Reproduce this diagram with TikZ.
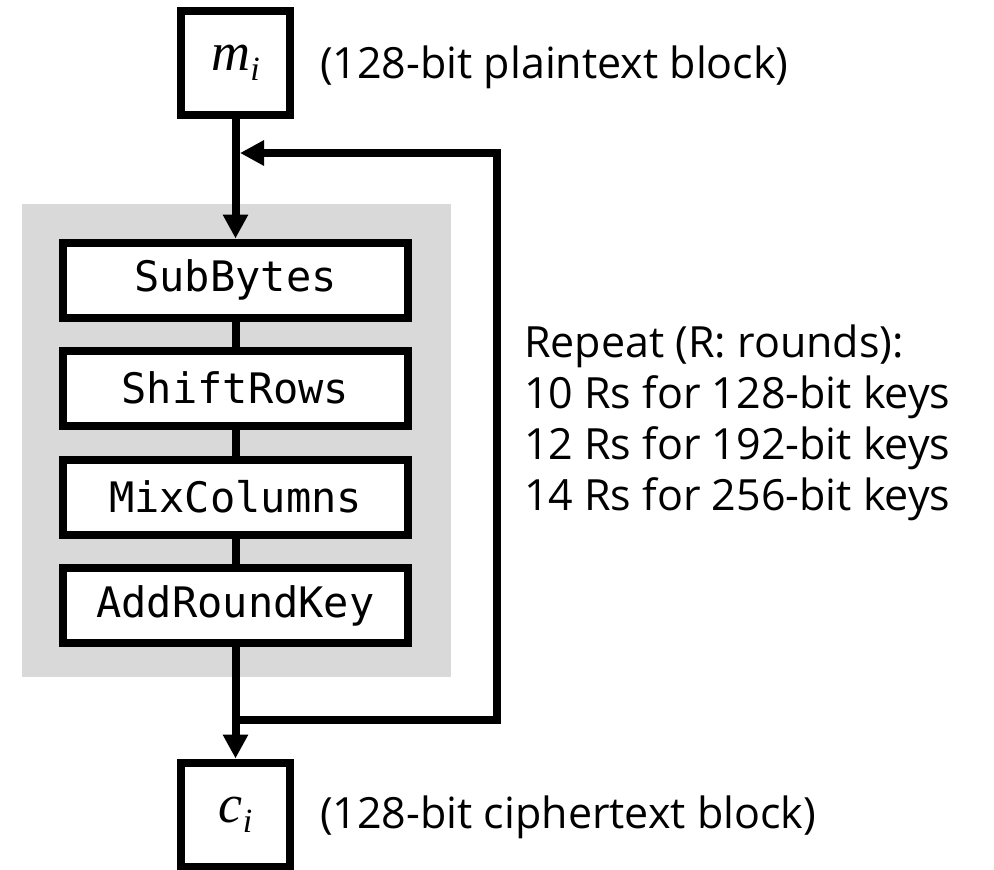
\documentclass[tikz,border=0pt]{standalone}
\usepackage{fontspec}
\setmainfont{Open Sans}
\setmonofont{DejaVu Sans Mono}
\newfontfamily\varfont{Liberation Serif}
\usetikzlibrary{arrows.meta}
\definecolor{roundgray}{HTML}{D9D9D9}
\newcommand{\blkvar}[2]{{\varfont\itshape #1}{\varfont\itshape\fontsize{34}{34}\selectfont\raisebox{-10pt}{#2}}}

\begin{document}
\begin{tikzpicture}
    [x=1pt,y=-1pt,line width=8pt,>={Triangle[length=24pt,width=24pt]},
     every node/.style={inner sep=0pt},
     blk/.style={draw,fill=white,minimum width=109pt,minimum height=104pt,font=\fontsize{54}{54}\selectfont},
     stage/.style={draw,fill=white,minimum width=345pt,minimum height=75pt,font=\fontsize{42}{50}\ttfamily},
     note/.style={anchor=west,font=\fontsize{43}{51}\selectfont,align=left}]
    \useasboundingbox (0,0) rectangle (994,870);
    \fill[roundgray] (22,204) rectangle (451,677);
    \node[blk] (m) at (235.5,63) {\blkvar{m}{i}};
    \node[stage] (sub) at (235.5,280) {SubBytes};
    \node[stage] (shift) at (235.5,388) {ShiftRows};
    \node[stage] (mix) at (235.5,497) {MixColumns};
    \node[stage] (add) at (235.5,605.5) {AddRoundKey};
    \node[blk] (c) at (235.5,814.5) {\blkvar{c}{i}};
    \node[note] (plain) at (316,67) {(128-bit plaintext block)};
    \node[note] (cipher) at (316,817) {(128-bit ciphertext block)};
    \node[note] (rep) at (520,423) {Repeat (R: rounds):\\10 Rs for 128-bit keys\\12 Rs for 192-bit keys\\14 Rs for 256-bit keys};
    \coordinate (split) at (235.5,720);
    \coordinate (merge) at (240,153);
    \draw[->] (m) -- (sub) ;
    \draw (sub) -- (shift) ;
    \draw (shift) -- (mix) ;
    \draw (mix) -- (add) ;
    \draw[->] (add) -- (c) ;
    \draw[->] (split) -- ++(261.5,0) |- (merge) ;
  \end{tikzpicture}
\end{document}
